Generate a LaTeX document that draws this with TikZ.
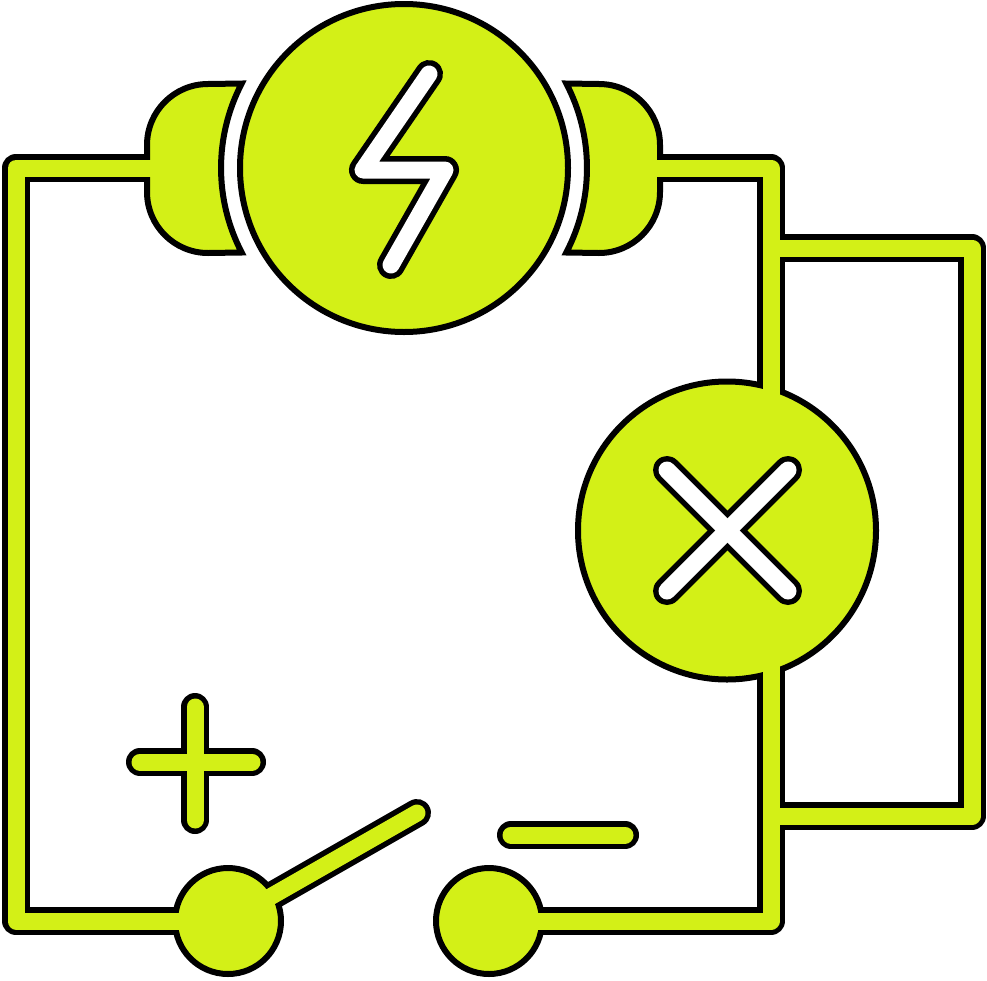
\documentclass[tikz,border=0pt]{standalone}
\definecolor{lime}{HTML}{D3F017}
\tikzset{
  ring/.style={circle,draw=black,fill=lime,line width=6pt,inner sep=0pt},
  plug/.style={draw=black,fill=lime,line width=6pt,line join=miter,miter limit=10},
  barout/.style={draw=black,line width=28pt,line join=round,line cap=round},
  barlime/.style={draw=lime,line width=17pt,line join=round,line cap=round},
  barwhite/.style={draw=white,line width=17pt,line join=round,line cap=round},
  wireout/.style={draw=black,line width=28pt,line join=round},
  wirein/.style={draw=lime,line width=17pt,line join=round},
}
\begin{document}
\begin{tikzpicture}[x=1pt,y=-1pt]
\useasboundingbox (0,0) rectangle (987,980);
% fixed points
\coordinate (plugL) at (170,168);
\coordinate (plugR) at (637,168);
\coordinate (cTL) at (16,168);
\coordinate (cBL) at (16,921);
\coordinate (cTM) at (771,168);
\coordinate (cBM) at (771,921);
\coordinate (loopA) at (771,248);
\coordinate (loopB) at (972,248);
\coordinate (loopC) at (972,816);
\coordinate (loopD) at (771,816);
\coordinate (armTip) at (417,813);
% black wire bodies
\path (228,921) coordinate (swA) (489,921) coordinate (swB);
\draw[wireout] (plugL) -- (cTL) -- (cBL) -- (swA);
\draw[wireout] (plugR) -- (cTM) -- (cBM) -- (swB);
\draw[wireout] (loopA) -- (loopB) -- (loopC) -- (loopD);
\draw[barout] (swA) -- (armTip);
% plugs
\draw[plug] (241.7,252.5) arc[start angle=152.5,end angle=207.5,radius=183]
  -- (208,84) arc[start angle=270,end angle=180,radius=61]
  -- (147,192) arc[start angle=180,end angle=90,radius=61] -- cycle;
\draw[plug] (566.3,252.5) arc[start angle=27.5,end angle=-27.5,radius=183]
  -- (599,84) arc[start angle=270,end angle=360,radius=61]
  -- (660,192) arc[start angle=0,end angle=90,radius=61] -- cycle;
% round parts
\node[ring,minimum size=328pt] (gen) at (404,168) {};
\node[ring,minimum size=298pt] (lamp) at (727,530.5) {};
\node[ring,minimum size=106pt] (sw1) at (swA) {};
\node[ring,minimum size=106pt] (sw2) at (swB) {};
% lime wire cores
\draw[wirein] (plugL) -- (cTL) -- (cBL) -- (sw1.center);
\draw[wirein] (plugR) -- (cTM) -- (cBM) -- (sw2.center);
\draw[wirein] (loopA) -- (loopB) -- (loopC) -- (loopD);
\draw[barlime] (sw1.center) -- (armTip);
% plus and minus
\draw[barout] (140,762) -- (252,762);
\draw[barout] (195,707) -- (195,820);
\draw[barlime] (140,762) -- (252,762);
\draw[barlime] (195,707) -- (195,820);
\draw[barout] (511,835) -- (625,835);
\draw[barlime] (511,835) -- (625,835);
% lightning bolt
\draw[barout] (429,74) -- (363,170) -- (445,170) -- (391,265);
\draw[barwhite] (429,74) -- (363,170) -- (445,170) -- (391,265);
% cross
\draw[barout] (667,470) -- (788,591);
\draw[barout] (788,470) -- (667,591);
\draw[barwhite] (667,470) -- (788,591);
\draw[barwhite] (788,470) -- (667,591);
\end{tikzpicture}
\end{document}
